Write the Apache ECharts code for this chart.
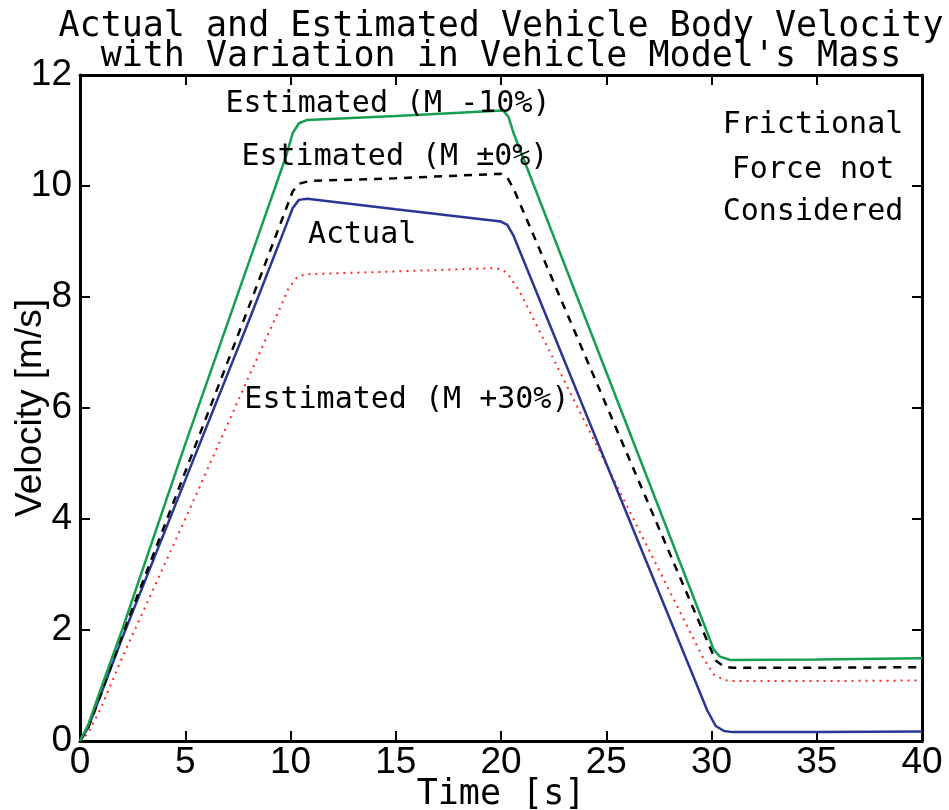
<!DOCTYPE html>
<html>
<head>
<meta charset="utf-8">
<script src="https://cdn.jsdelivr.net/npm/echarts@6/dist/echarts.min.js"></script>
<style>
html,body{margin:0;padding:0;background:#fff;}
#chart{width:949px;height:810px;}
</style>
</head>
<body>
<div id="chart"></div>
<script>
// ---- data ----
const titleLines = ["Actual and Estimated Vehicle Body Velocity", "with Variation in Vehicle Model's Mass"];
const xName = "Time [s]";
const yName = "Velocity [m/s]";

const minus10T = [0, 0.4, 1, 2, 5, 8, 9.8, 10.1, 10.4, 10.8, 15, 20.1, 20.35, 20.6, 25, 29.8, 30.1, 30.4, 30.9, 35, 40];
const minus10V = [0, 0.3, 0.95, 2.0, 5.35, 8.6, 10.55, 10.95, 11.13, 11.19, 11.26, 11.36, 11.25, 10.95, 6.65, 1.95, 1.65, 1.52, 1.46, 1.47, 1.49];

const zeroT = [0, 0.4, 1, 2, 5, 8, 9.8, 10.1, 10.4, 10.9, 15, 20.0, 20.3, 20.6, 25, 29.8, 30.2, 30.6, 31, 35, 40];
const zeroV = [0, 0.25, 0.85, 1.9, 4.85, 7.8, 9.6, 9.9, 10.04, 10.09, 10.14, 10.22, 10.15, 9.95, 6.05, 1.8, 1.45, 1.34, 1.32, 1.32, 1.33];

const actualT = [0, 0.4, 1, 2, 5, 8, 9.8, 10.1, 10.4, 10.8, 15, 20.0, 20.3, 20.6, 25, 29.8, 30.2, 30.6, 31, 35, 40];
const actualV = [0, 0.25, 0.85, 1.85, 4.7, 7.55, 9.3, 9.6, 9.75, 9.77, 9.58, 9.36, 9.3, 9.1, 5.0, 0.55, 0.27, 0.18, 0.16, 0.16, 0.17];

const plus30T = [0, 0.4, 1, 2, 5, 8, 9.5, 9.9, 10.3, 10.7, 15, 19.6, 20.0, 20.3, 20.9, 25, 29, 29.6, 30.1, 30.6, 31, 35, 40];
const plus30V = [0, 0.15, 0.6, 1.5, 4.0, 6.55, 7.8, 8.15, 8.35, 8.41, 8.46, 8.52, 8.5, 8.43, 8.09, 4.98, 1.95, 1.5, 1.2, 1.1, 1.08, 1.08, 1.09];

const xTicks = [0, 40, 5];
const yTicks = [0, 12, 2];

// annotation texts and their anchor positions (data coordinates)
const noteTexts = ["Estimated (M -10%)", "Estimated (M \u00b10%)", "Actual", "Estimated (M +30%)", "Frictional", "Force not", "Considered"];
const noteT = [14.63, 14.96, 13.4, 15.53, 34.82, 34.82, 34.82];
const noteV = [11.48, 10.52, 9.12, 6.14, 11.1, 10.29, 9.53];

// ---- chart ----
const zip = (a, b) => a.map((v, i) => [v, b[i]]);
const mono = "DejaVu Sans Mono";
const sans = "Liberation Sans";

const chart = echarts.init(document.getElementById('chart'), null, {renderer: 'canvas'});

const axisLine = {show: true, onZero: false, lineStyle: {color: '#000', width: 3}};
const axisTick = {show: true, inside: true, length: 10, lineStyle: {color: '#000', width: 2}};

const lineSeries = (name, t, v, color, type, width) => ({
  name, type: 'line', data: zip(t, v), showSymbol: false, symbol: 'none',
  lineStyle: {color, width, type}, z: 3, animation: false
});

chart.setOption({
  animation: false,
  backgroundColor: '#fff',
  grid: {left: 80, right: 27, top: 75, bottom: 69, containLabel: false, outerBoundsMode: 'none'},
  xAxis: [{
    type: 'value', min: xTicks[0], max: xTicks[1], interval: xTicks[2], position: 'bottom',
    axisLine, axisTick, splitLine: {show: false},
    axisLabel: {color: '#000', fontFamily: sans, fontSize: 37, margin: 3},
    name: xName, nameLocation: 'middle', nameGap: 36, nameMoveOverlap: false,
    nameTextStyle: {color: '#000', fontFamily: mono, fontSize: 35}
  }, {
    type: 'value', min: xTicks[0], max: xTicks[1], interval: xTicks[2], position: 'top',
    axisLine, axisTick, splitLine: {show: false}, axisLabel: {show: false}
  }],
  yAxis: [{
    type: 'value', min: yTicks[0], max: yTicks[1], interval: yTicks[2], position: 'left',
    axisLine, axisTick, splitLine: {show: false},
    axisLabel: {color: '#000', fontFamily: sans, fontSize: 37, margin: 8},
    name: yName, nameLocation: 'middle', nameGap: 31, nameRotate: 90, nameMoveOverlap: false,
    nameTextStyle: {color: '#000', fontFamily: sans, fontSize: 37}
  }, {
    type: 'value', min: yTicks[0], max: yTicks[1], interval: yTicks[2], position: 'right',
    axisLine, axisTick, splitLine: {show: false}, axisLabel: {show: false}
  }],
  series: [
    lineSeries('Estimated (M +30%)', plus30T, plus30V, '#ff2a2a', [2, 5], 2),
    lineSeries('Actual', actualT, actualV, '#2b3596', 'solid', 2.5),
    lineSeries('Estimated (M \u00b10%)', zeroT, zeroV, '#000000', [8, 7], 2.5),
    lineSeries('Estimated (M -10%)', minus10T, minus10V, '#16a04e', 'solid', 2.5)
  ]
});

// titles and annotations placed through the chart's own coordinate system
const graphics = [
  {type: 'text', x: 501, y: 27, z: 10, style: {text: titleLines[0], fill: '#000', font: '35px "' + mono + '"', textAlign: 'center', textVerticalAlign: 'middle'}},
  {type: 'text', x: 501, y: 57, z: 10, style: {text: titleLines[1], fill: '#000', font: '35px "' + mono + '"', textAlign: 'center', textVerticalAlign: 'middle'}}
];
noteTexts.forEach((s, i) => {
  const p = chart.convertToPixel({gridIndex: 0}, [noteT[i], noteV[i]]);
  graphics.push({type: 'text', x: p[0], y: p[1], z: 10,
    style: {text: s, fill: '#000', font: '30px "' + mono + '"', textAlign: 'center', textVerticalAlign: 'middle'}});
});
chart.setOption({graphic: graphics});
</script>
</body>
</html>
